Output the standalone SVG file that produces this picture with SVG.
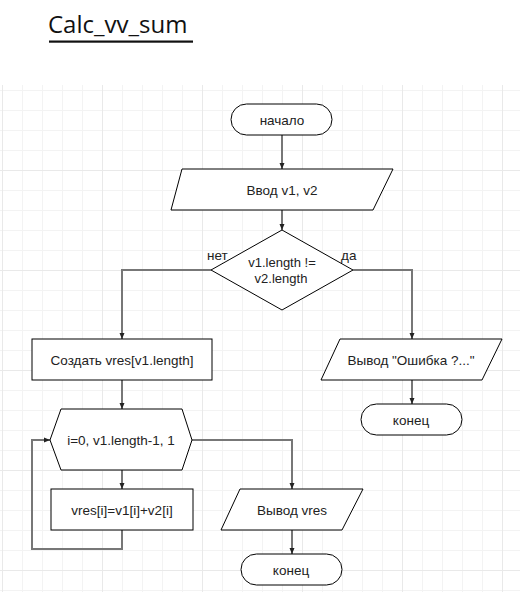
<svg xmlns="http://www.w3.org/2000/svg" width="526" height="592" viewBox="0 0 526 592">
<defs>
<pattern id="minor" x="2" y="90" width="20" height="20" patternUnits="userSpaceOnUse">
<path d="M0,0 V20 M0,0 H20" stroke="#f3f3f3" stroke-width="2" fill="none"/>
</pattern>
<pattern id="major" x="2" y="70" width="100" height="100" patternUnits="userSpaceOnUse">
<path d="M0,0 V100 M0,0 H100" stroke="#e9e9e9" stroke-width="2" fill="none"/>
</pattern>
<marker id="arr" markerUnits="userSpaceOnUse" markerWidth="8" markerHeight="8" refX="6" refY="3" orient="auto">
<path d="M0,0.5 L6,3 L0,5.5 Z" fill="#222"/>
</marker>
</defs>
<style>
.shape{fill:#fff;stroke:#000;stroke-width:1}
.t{font-family:"Liberation Sans",Arial,sans-serif;font-size:13.5px;fill:#222;text-anchor:middle}
.d{font-size:13px}
.lbl{font-family:"Liberation Sans",Arial,sans-serif;font-size:13.5px;fill:#222}
.conn{fill:none;stroke:#777;stroke-width:2;marker-end:url(#arr)}
</style>
<rect width="526" height="592" fill="#fff"/>
<g id="grid">
<rect x="0" y="85" width="520" height="507" fill="url(#minor)"/>
<rect x="0" y="85" width="520" height="507" fill="url(#major)"/>
</g>
<g id="title">
<text x="48" y="33" font-family="'Open Sans',sans-serif" font-size="24" fill="#111">Calc_vv_sum</text>
<rect x="49" y="40.5" width="144" height="2.2" fill="#111"/>
</g>
<g id="connectors">
<path class="conn" d="M282,135 V169"/>
<path class="conn" d="M282,210 V230"/>
<path class="conn" d="M211,270 H122 V339"/>
<path class="conn" d="M353,270 H412 V339"/>
<path class="conn" d="M412,380 V404"/>
<path class="conn" d="M122,380 V409"/>
<path class="conn" d="M122,470 V489"/>
<path class="conn" d="M122,530 V549 H32 V440 H50"/>
<path class="conn" d="M192,440 H292 V489"/>
<path class="conn" d="M292,530 V554"/>
</g>
<g id="start">
<rect class="shape" x="231" y="104" width="101" height="31" rx="15.5"/>
<text class="t" x="282" y="125">начало</text>
</g>
<g id="input">
<polygon class="shape" points="182,169 393,169 373,210 171,210"/>
<text class="t" x="282" y="195">Ввод v1, v2</text>
</g>
<g id="decision">
<polygon class="shape" points="282,230 353,270 282,310 211,270"/>
<text class="t d" x="282" y="267">v1.length !=</text>
<text class="t d" x="281" y="283">v2.length</text>
<text class="lbl" x="207" y="260">нет</text>
<text class="lbl" x="341" y="260">да</text>
</g>
<g id="create">
<rect class="shape" x="32" y="339" width="180" height="41"/>
<text class="t" x="122" y="365">Создать vres[v1.length]</text>
</g>
<g id="error">
<polygon class="shape" points="340,339 502,339 482,380 321,380"/>
<text class="t" x="411" y="365">Вывод "Ошибка ?..."</text>
</g>
<g id="end1">
<rect class="shape" x="361" y="404" width="101" height="31" rx="15.5"/>
<text class="t" x="411" y="425">конец</text>
</g>
<g id="loop">
<polygon class="shape" points="61,409 182,409 192,440 182,470 61,470 50,440"/>
<text class="t" x="121" y="445">i=0, v1.length-1, 1</text>
</g>
<g id="sum">
<rect class="shape" x="51" y="489" width="142" height="41"/>
<text class="t" x="122" y="515">vres[i]=v1[i]+v2[i]</text>
</g>
<g id="output">
<polygon class="shape" points="240,489 363,489 342,530 221,530"/>
<text class="t" x="292" y="515">Вывод vres</text>
</g>
<g id="end2">
<rect class="shape" x="241" y="554" width="101" height="31" rx="15.5"/>
<text class="t" x="291" y="575">конец</text>
</g>
</svg>
